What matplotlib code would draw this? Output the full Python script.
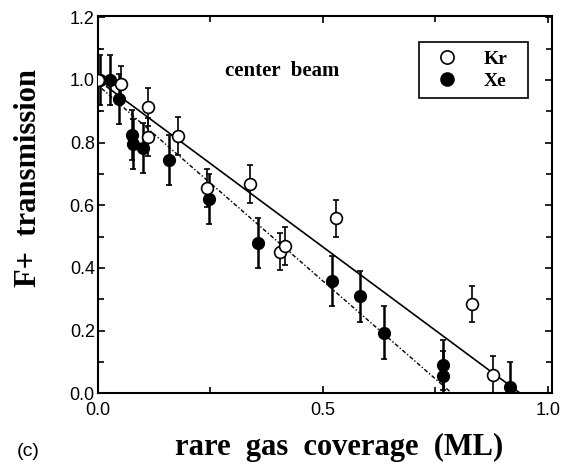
import matplotlib
matplotlib.use("Agg")
import matplotlib.pyplot as plt
from matplotlib.lines import Line2D
import numpy as np

# Data
kr_x = [0.0, 0.053, 0.111, 0.112, 0.179, 0.242, 0.338, 0.405, 0.416, 0.529, 0.831, 0.878]
kr_y = [1.0, 0.986, 0.914, 0.818, 0.821, 0.656, 0.668, 0.452, 0.470, 0.558, 0.285, 0.058]
kr_err = [0.10, 0.06, 0.06, 0.06, 0.06, 0.06, 0.062, 0.06, 0.06, 0.058, 0.058, 0.06]

xe_x = [0.005, 0.027, 0.048, 0.076, 0.079, 0.101, 0.159, 0.247, 0.357, 0.520, 0.583, 0.637, 0.768, 0.768, 0.915]
xe_y = [1.0, 1.0, 0.940, 0.824, 0.795, 0.783, 0.744, 0.619, 0.480, 0.359, 0.309, 0.194, 0.091, 0.055, 0.019]
xe_err = [0.08, 0.08, 0.08, 0.08, 0.08, 0.08, 0.08, 0.08, 0.08, 0.08, 0.08, 0.083, 0.08, 0.08, 0.08]

# Linear fits (intercept, slope) and drawn ranges
kr_fit = (1.0, -1.065)
kr_fit_range = [0.02, 0.938]
xe_fit = (0.984, -1.25)
xe_fit_range = [0.009, 0.787]

x_ticks = [0.0, 0.5, 1.0]
x_ticklabels = ["0.0", "0.5", "1.0"]
y_ticks = [0.0, 0.2, 0.4, 0.6, 0.8, 1.0, 1.2]
y_ticklabels = ["0.0", "0.2", "0.4", "0.6", "0.8", "1.0", "1.2"]

fig = plt.figure(figsize=(5.74, 4.68), dpi=100)
ax = fig.add_axes([0.170, 0.1596, 0.791, 0.8069])

serif = ["Liberation Serif", "DejaVu Serif"]
sans = ["Liberation Sans", "DejaVu Sans"]

# fit lines
xs = np.array(kr_fit_range)
ax.plot(xs, kr_fit[0] + kr_fit[1] * xs, color="black", lw=1.2, zorder=2)
xs = np.array(xe_fit_range)
ax.plot(xs, xe_fit[0] + xe_fit[1] * xs, color="black", lw=1.0,
        linestyle=(0, (3, 1.5, 1, 1.5)), zorder=2)

# data
ax.errorbar(xe_x, xe_y, yerr=xe_err, fmt="o", color="black", mfc="black", mec="black",
            ms=8.5, elinewidth=1.8, capsize=2.5, capthick=1.2, zorder=3)
ax.errorbar(kr_x, kr_y, yerr=kr_err, fmt="o", color="black", mfc="white", mec="black",
            ms=8.5, mew=1.2, elinewidth=1.2, capsize=2.5, capthick=1.0, zorder=4)

ax.set_xlim(0, 1.0085)
ax.set_ylim(0, 1.205)
ax.set_xticks(x_ticks)
ax.set_xticklabels(x_ticklabels, family=sans, fontsize=13)
ax.set_yticks(y_ticks)
ax.set_yticklabels(y_ticklabels, family=sans, fontsize=13)
ax.set_xticks([0.25, 0.75], minor=True)
ax.set_yticks(np.arange(0.1, 1.2, 0.2), minor=True)
ax.tick_params(which="both", direction="in", top=True, right=True, width=1.2)
ax.tick_params(which="major", length=5)
ax.tick_params(axis="x", which="major", pad=6)
ax.tick_params(axis="y", which="major", pad=2)
ax.tick_params(which="minor", length=4)
for s in ax.spines.values():
    s.set_linewidth(1.5)

ax.set_ylabel("F+  transmission", family=serif, fontweight="bold", fontsize=22)
ax.yaxis.set_label_coords(-0.12, 0.57)
ax.set_xlabel("rare  gas  coverage  (ML)", family=serif, fontweight="bold", fontsize=22)
ax.xaxis.set_label_coords(0.532, -0.105)

ax.text(0.406, 0.853, "center  beam", transform=ax.transAxes, family=serif,
        fontweight="bold", fontsize=15, ha="center", va="center")
fig.text(0.049, 0.035, "(c)", family=sans, fontsize=14, ha="center", va="center")

handles = [Line2D([], [], marker="o", ls="none", mfc="white", mec="black", mew=1.2, ms=9.5),
           Line2D([], [], marker="o", ls="none", mfc="black", mec="black", ms=9.5)]
labels = ["Kr", "Xe"]
leg = ax.legend(handles, labels, loc="upper left", mode="expand",
                bbox_to_anchor=(0.708, 0.781, 0.24, 0.15),
                prop={"family": serif, "weight": "bold", "size": 14},
                frameon=True, fancybox=False, edgecolor="black", framealpha=1,
                handlelength=2.0, handletextpad=0.9, borderpad=0.42, labelspacing=0.25,
                borderaxespad=0)
leg.get_frame().set_linewidth(1.2)

fig.savefig("out.png", dpi=100)
